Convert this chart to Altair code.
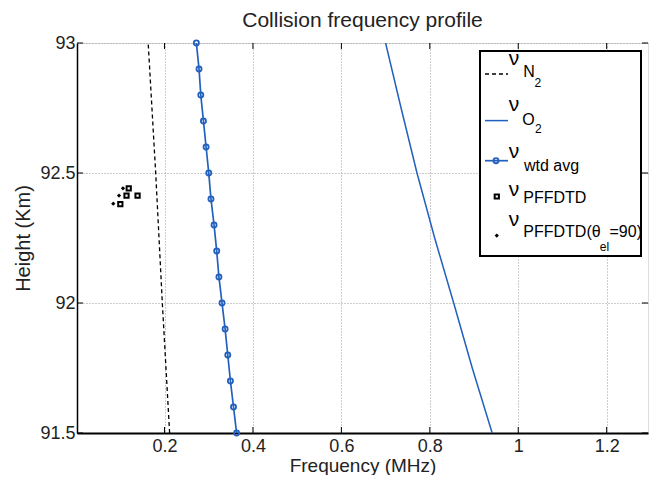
import altair as alt
import pandas as pd

# ---- data ----
heights = [93.0, 92.9, 92.8, 92.7, 92.6, 92.5, 92.4, 92.3, 92.2, 92.1,
           92.0, 91.9, 91.8, 91.7, 91.6, 91.5]
wtd_avg = [0.272, 0.278, 0.282, 0.288, 0.294, 0.300, 0.305, 0.312, 0.318, 0.323,
           0.330, 0.337, 0.343, 0.349, 0.356, 0.363]
o2_heights = [93.0, 92.75, 92.5, 92.25, 92.0, 91.75, 91.5]
o2_freq = [0.700, 0.735, 0.771, 0.811, 0.854, 0.896, 0.941]
n2_heights = [93.0, 92.5, 92.0, 91.5]
n2_freq = [0.163, 0.180, 0.195, 0.2115]
pffdtd_h = [92.441, 92.413, 92.413, 92.380]
pffdtd_f = [0.119, 0.114, 0.139, 0.100]
theta_h = [92.441, 92.413, 92.382]
theta_f = [0.106, 0.097, 0.084]
x_ticks = [0.2, 0.4, 0.6, 0.8, 1.0, 1.2]
y_ticks = [91.5, 92.0, 92.5, 93.0]

W, H = 571, 390
BLUE = "#2260bd"
FONT = "Liberation Sans"

xs = alt.Scale(domain=[0.002, 1.2935], nice=False, zero=False)
ys = alt.Scale(domain=[91.5, 93.0], nice=False, zero=False)

xaxis = alt.Axis(values=x_ticks, format=".1~f", grid=True, gridDash=[1, 2],
                 gridColor="#9a9a9a", gridWidth=1, ticks=False, labelPadding=4,
                 labelFontSize=18, labelColor="#222", title="Frequency (MHz)",
                 titleFontSize=19, titleFontWeight="normal", titleColor="#222",
                 titleY=32, titleBaseline="middle",
                 domainColor="black", domainWidth=2, labelFont=FONT,
                 titleFont=FONT)
yaxis = alt.Axis(values=y_ticks, format=".1~f", grid=True, gridDash=[1, 2],
                 gridColor="#9a9a9a", gridWidth=1, ticks=False, labelPadding=2,
                 labelFontSize=18, labelColor="#222", title="Height (Km)",
                 titleFontSize=20, titleFontWeight="normal", titleColor="#222",
                 titlePadding=6, domainColor="black", domainWidth=1.5, labelFont=FONT,
                 titleFont=FONT)

df_w = pd.DataFrame({"h": heights, "f": wtd_avg})
df_o = pd.DataFrame({"h": o2_heights, "f": o2_freq})
df_n = pd.DataFrame({"h": n2_heights, "f": n2_freq})
df_p = pd.DataFrame({"h": pffdtd_h, "f": pffdtd_f})
df_t = pd.DataFrame({"h": theta_h, "f": theta_f})

base_w = alt.Chart(df_w)
wline = base_w.mark_line(color=BLUE, strokeWidth=1.7, clip=True).encode(
    x=alt.X("f:Q", scale=xs, axis=xaxis),
    y=alt.Y("h:Q", scale=ys, axis=yaxis),
    order="h:Q",
)
wpts = base_w.mark_point(shape="circle", filled=False, color=BLUE, size=26,
                         strokeWidth=1.8, opacity=1).encode(
    x=alt.X("f:Q", scale=xs), y=alt.Y("h:Q", scale=ys))

oline = alt.Chart(df_o).mark_line(color=BLUE, strokeWidth=1.5, clip=True).encode(
    x=alt.X("f:Q", scale=xs), y=alt.Y("h:Q", scale=ys), order="h:Q")
nline = alt.Chart(df_n).mark_line(color="black", strokeWidth=1.3, strokeDash=[4, 3],
                                  clip=True).encode(
    x=alt.X("f:Q", scale=xs), y=alt.Y("h:Q", scale=ys), order="h:Q")
ppts = alt.Chart(df_p).mark_point(shape="square", filled=False, color="black",
                                  size=18, strokeWidth=2, opacity=1).encode(
    x=alt.X("f:Q", scale=xs), y=alt.Y("h:Q", scale=ys))
tpts = alt.Chart(df_t).mark_point(shape="diamond", filled=True, color="black",
                                  size=18, opacity=1).encode(
    x=alt.X("f:Q", scale=xs), y=alt.Y("h:Q", scale=ys))

# inward ticks (box style)
dxt = pd.DataFrame({"v": x_ticks})
dyt = pd.DataFrame({"v": y_ticks})
tick_b = alt.Chart(dxt).mark_rule(color="black", strokeWidth=1).encode(
    x=alt.X("v:Q", scale=xs), y=alt.value(H - 6), y2=alt.value(H))
tick_t = alt.Chart(dxt).mark_rule(color="black", strokeWidth=1).encode(
    x=alt.X("v:Q", scale=xs), y=alt.value(0), y2=alt.value(6))
tick_l = alt.Chart(dyt).mark_rule(color="black", strokeWidth=1).encode(
    y=alt.Y("v:Q", scale=ys), x=alt.value(0), x2=alt.value(6))
tick_r = alt.Chart(dyt).mark_rule(color="black", strokeWidth=1).encode(
    y=alt.Y("v:Q", scale=ys), x=alt.value(W - 6), x2=alt.value(W))

# ---- custom legend (MATLAB style, with subscripts) ----
one = pd.DataFrame({"k": [0]})
D = -4.5  # shift of the legend block relative to the original layout
LX0, LX1, LY0, LY1 = 407.5 + D, 568.5 + D, 8, 213
box = alt.Chart(one).mark_rect(fill="white", stroke="black", strokeWidth=2).encode(
    x=alt.value(LX0), x2=alt.value(LX1), y=alt.value(LY0), y2=alt.value(LY1))

sx0, sx1 = 412.5 + D, 435.5 + D
leg_n2 = alt.Chart(one).mark_rule(color="black", strokeWidth=1.3, strokeDash=[4, 3]).encode(
    x=alt.value(sx0), x2=alt.value(sx1), y=alt.value(31))
leg_o2 = alt.Chart(one).mark_rule(color=BLUE, strokeWidth=1.5).encode(
    x=alt.value(sx0), x2=alt.value(sx1), y=alt.value(77.6))
leg_w = alt.Chart(one).mark_rule(color=BLUE, strokeWidth=1.7).encode(
    x=alt.value(sx0), x2=alt.value(sx1), y=alt.value(117.7))
leg_wp = alt.Chart(one).mark_point(shape="circle", filled=False, color=BLUE, size=26,
                                   strokeWidth=1.8, opacity=1).encode(
    x=alt.value(423.5 + D), y=alt.value(117.7))
leg_p = alt.Chart(one).mark_point(shape="square", filled=False, color="black", size=18,
                                  strokeWidth=2, opacity=1).encode(
    x=alt.value(424.3 + D), y=alt.value(153.5))
leg_t = alt.Chart(one).mark_point(shape="diamond", filled=True, color="black", size=18,
                                  opacity=1).encode(
    x=alt.value(424.3 + D), y=alt.value(192.6))

legend_texts = [
    # text, x, y, size, align
    ("ν", 441.5, 15.7, 21, "center"),
    ("N", 450.8, 29.3, 16, "left"),
    ("2", 462.0, 39.5, 12, "left"),
    ("ν", 441.5, 61.6, 21, "center"),
    ("O", 449.8, 76.9, 16, "left"),
    ("2", 462.6, 86.0, 12, "left"),
    ("ν", 441.5, 109.2, 21, "center"),
    ("wtd avg", 451.5, 122.9, 16, "left"),
    ("ν", 441.5, 146.7, 21, "center"),
    ("PFFDTD", 450.8, 155.0, 16, "left"),
    ("ν", 441.5, 177.3, 21, "center"),
    ("PFFDTD(θ", 450.8, 189.2, 16, "left"),
    ("el", 527.3, 203.5, 12, "left"),
    ("=90)", 537.0, 189.2, 16, "left"),
]
leg_txt = []
for t, x, y, s, a in legend_texts:
    leg_txt.append(alt.Chart(one).mark_text(text=t, font=FONT, fontSize=s, align=a,
                                            baseline="middle", color="black").encode(
        x=alt.value(x + D), y=alt.value(y)))

chart = alt.layer(
    wline, oline, nline, wpts, ppts, tpts,
    tick_b, tick_t, tick_l, tick_r,
    box, leg_n2, leg_o2, leg_w, leg_wp, leg_p, leg_t, *leg_txt,
).properties(
    width=W, height=H,
    title=alt.TitleParams("Collision frequency profile", fontSize=21, font=FONT,
                          fontWeight="normal", color="#222", offset=3),
    autosize=alt.AutoSizeParams(type="none"),
    padding={"left": 69, "top": 35, "right": 1, "bottom": 42},
).configure_view(stroke="black", strokeWidth=1.5).configure(background="white")

chart.save("out.html", embed_options={"renderer": "svg", "actions": False})
